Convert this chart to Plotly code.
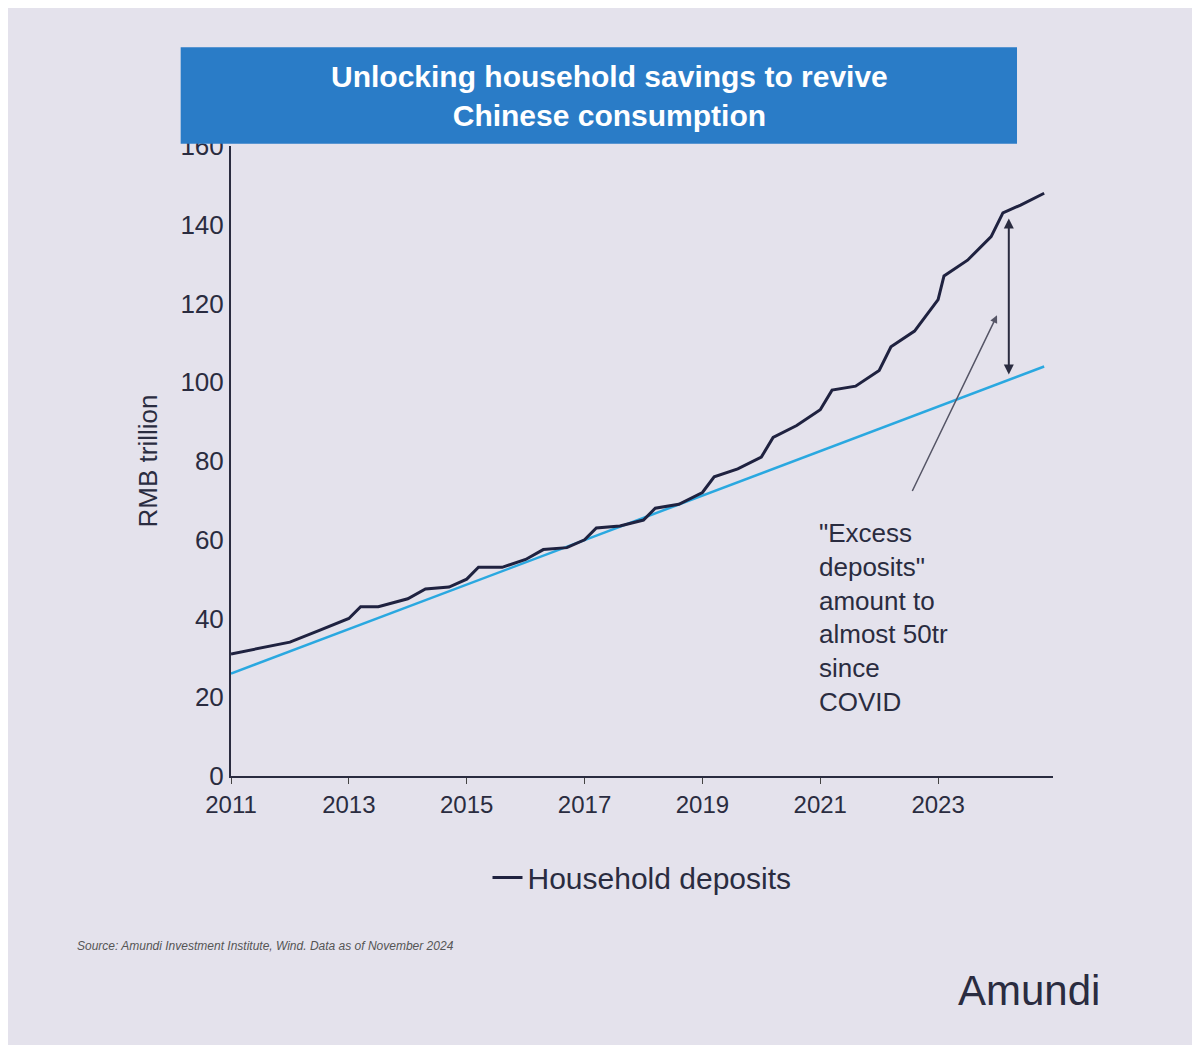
import plotly.graph_objects as go

dep_x = [2011.0, 2011.5, 2012.0, 2012.5, 2013.0, 2013.2, 2013.5, 2014.0, 2014.3, 2014.7, 2015.0, 2015.2, 2015.6,
         2016.0, 2016.3, 2016.7, 2017.0, 2017.2, 2017.6, 2018.0, 2018.2, 2018.6, 2019.0, 2019.2, 2019.6,
         2020.0, 2020.2, 2020.6, 2021.0, 2021.2, 2021.6, 2022.0, 2022.2, 2022.6, 2023.0, 2023.1, 2023.5,
         2023.9, 2024.1, 2024.4, 2024.8]
dep_y = [31, 32.5, 34, 37, 40, 43, 43, 45, 47.5, 48, 50, 53, 53, 55, 57.5, 58, 60, 63, 63.5, 65, 68, 69, 72, 76, 78,
         81, 86, 89, 93, 98, 99, 103, 109, 113, 121, 127, 131, 137, 143, 145, 148]
trend_x = [2011.0, 2024.8]
trend_y = [26, 104]
tick_vals = [2011, 2013, 2015, 2017, 2019, 2021, 2023]

fig = go.Figure()
fig.add_trace(go.Scatter(x=trend_x, y=trend_y, mode="lines", line=dict(color="#2aa8e0", width=2.5), showlegend=False))
fig.add_trace(go.Scatter(x=dep_x, y=dep_y, mode="lines", line=dict(color="#1f2240", width=3),
                         name="Household deposits"))

fig.update_layout(
    width=1200, height=1045, paper_bgcolor="#e4e2ec", plot_bgcolor="#e4e2ec",
    margin=dict(l=223, r=155, t=138, b=277),
    font=dict(family="Liberation Sans, Arial", color="#2a2c40", size=24),
    xaxis=dict(range=[2011, 2024.95], tickvals=tick_vals, ticks="outside", ticklen=6, showgrid=False,
               showline=True, linecolor="#2a2c40", linewidth=2, zeroline=False, tickfont=dict(size=24)),
    yaxis=dict(range=[0, 160], dtick=20, showgrid=False, showline=True, linecolor="#2a2c40", linewidth=2,
               zeroline=False, title=dict(text="RMB trillion", font=dict(size=26)), tickfont=dict(size=26)),
    legend=dict(orientation="h", x=0.5, xanchor="center", y=-0.12, yanchor="top", font=dict(size=30)),
    shapes=[dict(type="rect", xref="paper", yref="paper", x0=-0.06, x1=0.955, y0=1.005, y1=1.155,
                 fillcolor="#2a7cc7", line=dict(color="#2a7cc7"))],
)
fig.add_annotation(xref="paper", yref="paper", x=0.46, y=1.08, yanchor="middle", showarrow=False,
                   text="<b>Unlocking household savings to revive<br>Chinese consumption</b>",
                   font=dict(size=30, color="white"))
fig.add_annotation(x=2024.2, y=102, ax=2024.2, ay=142, axref="x", ayref="y", showarrow=True,
                   arrowhead=2, arrowside="end+start", arrowwidth=2, arrowcolor="#2a2c40", text="")
fig.add_annotation(x=2024.0, y=117, ax=2022.55, ay=72, axref="x", ayref="y", showarrow=True,
                   arrowhead=2, arrowwidth=1.5, arrowcolor="#556", text="")
fig.add_annotation(x=2020.95, y=66, xanchor="left", yanchor="top", showarrow=False, align="left",
                   text="\"Excess<br>deposits\"<br>amount to<br>almost 50tr<br>since<br>COVID",
                   font=dict(size=26, color="#2a2c40"))
fig.add_annotation(xref="paper", yref="paper", x=-0.19, y=-0.27, xanchor="left", yanchor="middle", showarrow=False,
                   text="<i>Source: Amundi Investment Institute, Wind. Data as of November 2024</i>",
                   font=dict(size=12, color="#555"))
fig.add_annotation(xref="paper", yref="paper", x=1.06, y=-0.34, xanchor="right", yanchor="middle", showarrow=False,
                   text="Amundi", font=dict(size=42, color="#2a2c40"))
fig.write_html("out.html")
